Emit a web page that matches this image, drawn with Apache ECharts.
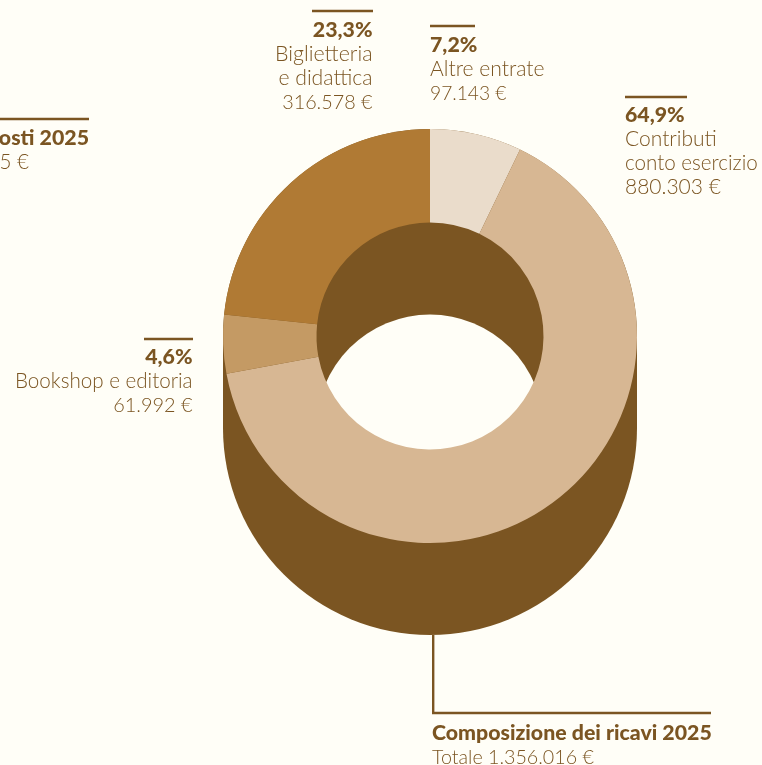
<!DOCTYPE html>
<html><head><meta charset="utf-8">
<style>html,body{margin:0;padding:0;background:#FFFEF7}#c{width:762px;height:765px}</style>
<script src="https://cdn.jsdelivr.net/npm/echarts@6/dist/echarts.min.js"></script>
</head><body><div id="c"></div>
<script>
const sliceNames = ['Altre entrate','Contributi conto esercizio','Bookshop e editoria','Biglietteria e didattica'];
const sliceValues = [97143,880303,61992,316578];
const sliceColors = ['#EADCCB','#D7B793','#C49A64','#B07A34'];
const totalRicavi = 1356016;
const DARK='#7B5522', BG='#FFFEF7';
const FONT='Lato';
const boldSize=21.3, lightSize=20.6, baseShift=3.5;
const lineSizeFit={'Totale 1.356.016 €':19.7,'97.143 €':19.2,'316.578 €':19.8,'61.992 €':19.9,'880.303 €':21,
  'Altre entrate':21.1,'Biglietteria':21.4,'e didattica':21.2,'Contributi':21};

const blocks = [
 {x:372.5,ry:11,x0:312,x1:373,align:'right',top:37,bold:['23,3%'],light:['Biglietteria','e didattica','316.578 €']},
 {x:430,ry:26,x0:430,x1:475,align:'left',top:52,bold:['7,2%'],light:['Altre entrate','97.143 €']},
 {x:625,ry:97,x0:625,x1:687,align:'left',top:122,bold:['64,9%'],light:['Contributi','conto esercizio','880.303 €']},
 {x:192.5,ry:339,x0:144,x1:193,align:'right',top:364,bold:['4,6%'],light:['Bookshop e editoria','61.992 €']},
 {x:89,ry:119,x0:0,x1:89,align:'right',top:145,bold:['osti 2025'],light:['5 €'],lightX:29},
 {x:432,ry:713,x0:432,x1:711,align:'left',top:740,bold:['Composizione dei ricavi 2025'],light:['Totale 1.356.016 €']}
];
const graphics=[];
graphics.push({type:'rect',z:0,silent:true,shape:{x:223,y:336,width:414,height:92},style:{fill:DARK}});
graphics.push({type:'rect',z:0,silent:true,shape:{x:432,y:635,width:2.4,height:79},style:{fill:DARK}});
blocks.forEach(b=>{
  graphics.push({type:'rect',z:5,silent:true,shape:{x:b.x0,y:b.ry-1.3,width:b.x1-b.x0,height:2.6},style:{fill:DARK}});
  let y=b.top+baseShift;
  b.bold.forEach(t=>{graphics.push({type:'text',z:5,silent:true,x:b.x,y:y,style:{text:t,fill:DARK,font:'900 '+boldSize+'px '+FONT,align:b.align,verticalAlign:'bottom'}});y+=24;});
  b.light.forEach(t=>{graphics.push({type:'text',z:5,silent:true,x:b.lightX||b.x,y:y,style:{text:t,fill:DARK,font:'300 '+(lineSizeFit[t]||lightSize)+'px '+FONT,align:b.align,verticalAlign:'bottom'}});y+=24;});
});
const flat=(color,cy,r,z)=>({type:'pie',z:z,silent:true,animation:false,center:[430,cy],radius:r,label:{show:false},labelLine:{show:false},
  itemStyle:{color:color},data:[{name:'Totale',value:totalRicavi}]});
const chart=echarts.init(document.getElementById('c'),null,{renderer:'canvas'});
chart.setOption({
  backgroundColor:BG,animation:false,
  graphic:graphics,
  series:[
    flat(DARK,336,[0,207],1),
    flat(DARK,428,[0,207],1),
    flat(BG,428,[0,113.5],2),
    {type:'pie',z:3,silent:true,animation:false,center:[430,336],radius:[113.5,207],startAngle:90,clockwise:true,sort:null,
     label:{show:false},labelLine:{show:false},
     data:sliceNames.map((n,i)=>({name:n,value:sliceValues[i],itemStyle:{color:sliceColors[i]}}))}
  ]
});
</script></body></html>
